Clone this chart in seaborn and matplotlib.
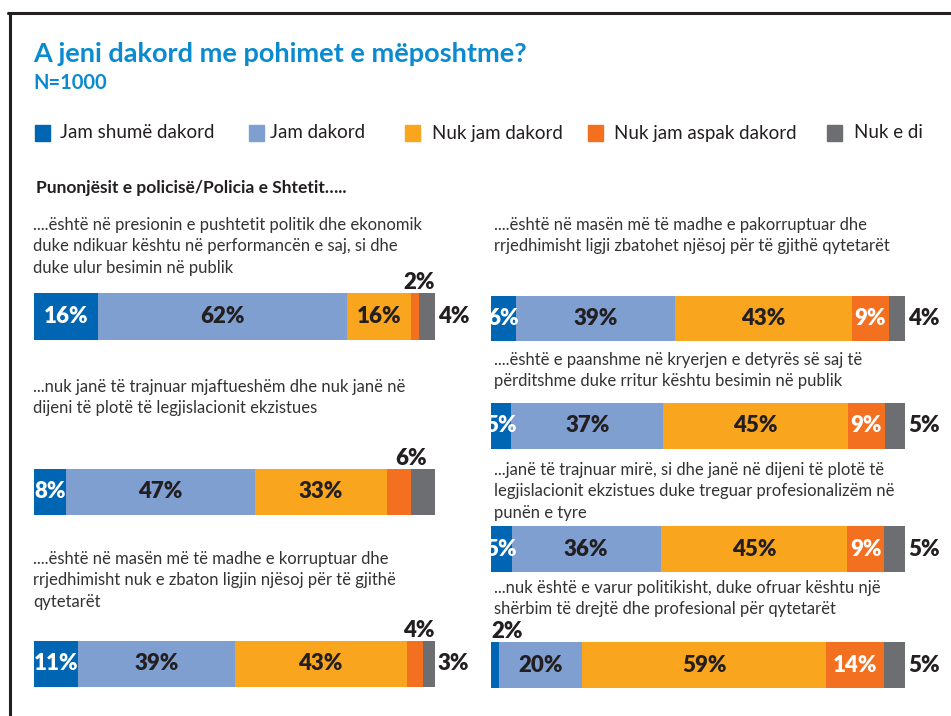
import numpy as np
import seaborn as sns
import matplotlib.pyplot as plt
from matplotlib.lines import Line2D
from matplotlib.patches import Rectangle

# legend categories and colours
categories = ["Jam shumë dakord", "Jam dakord", "Nuk jam dakord", "Nuk jam aspak dakord", "Nuk e di"]
colors = ["#0066b3", "#7f9fd1", "#f9a61e", "#f37021", "#6d6e71"]

title = "A jeni dakord me pohimet e mëposhtme?"
subtitle = "N=1000"
group_label = "Punonjësit e policisë/Policia e Shtetit\u2026.."

# left column statements and shares (%)
left_statements = [
    "....është në presionin e pushtetit politik dhe ekonomik\nduke ndikuar kështu në performancën e saj, si dhe\nduke ulur besimin në publik",
    "...nuk janë të trajnuar mjaftueshëm dhe nuk janë në\ndijeni të plotë të legjislacionit ekzistues",
    "....është në masën më të madhe e korruptuar dhe\nrrjedhimisht nuk e zbaton ligjin njësoj për të gjithë\nqytetarët",
]
left_values = [
    [16, 62, 16, 2, 4],
    [8, 47, 33, 6, 6],
    [11, 39, 43, 4, 3],
]

# right column statements and shares (%)
right_statements = [
    "....është në masën më të madhe e pakorruptuar dhe\nrrjedhimisht ligji zbatohet njësoj për të gjithë qytetarët",
    "....është e paanshme në kryerjen e detyrës së saj të\npërditshme duke rritur kështu besimin në publik",
    "...janë të trajnuar mirë, si dhe janë në dijeni të plotë të\nlegjislacionit ekzistues duke treguar profesionalizëm në\npunën e tyre",
    "...nuk është e varur politikisht, duke ofruar kështu një\nshërbim të drejtë dhe profesional për qytetarët",
]
right_values = [
    [6, 39, 43, 9, 4],
    [5, 37, 45, 9, 5],
    [5, 36, 45, 9, 5],
    [2, 20, 59, 14, 5],
]

# ---- layout (pixels) ----
W, H = 951, 716
left_x = (34, 435)
right_x = (491, 905)
left_bar_y = [(293, 340), (469, 515), (641, 687)]
right_bar_y = [(296, 341), (403, 449), (526, 572), (642, 688)]
left_text_y = [225, 387, 559]
right_text_y = [225, 360, 470, 588]
line_gap = 21.3

# where each value label goes
left_modes = [
    ["in", "in", "in", "above", "right"],
    ["in", "in", "in", "none", "edge"],
    ["in", "in", "in", "above", "right"],
]
right_modes = [
    ["in", "in", "in", "in", "right"],
    ["in", "in", "in", "in", "right"],
    ["in", "in", "in", "in", "right"],
    ["above_left", "in", "in", "in", "right"],
]
in_colors = ["white", "#231f20", "#231f20", "white", "white"]
dark = "#231f20"

sns.set_style("white")
plt.rcParams['font.family'] = ['Lato', 'DejaVu Sans']

fig = plt.figure(figsize=(W / 100, H / 100), dpi=100)


def fx(x):
    return x / W


def fy(y):
    return 1 - y / H


def draw_bar(xr, yr, values, modes):
    ax = fig.add_axes([fx(xr[0]), fy(yr[1]), (xr[1] - xr[0]) / W, (yr[1] - yr[0]) / H])
    cum = np.cumsum(values)
    # stack by overlaying cumulative totals, widest first
    for i in reversed(range(len(values))):
        sns.barplot(x=[cum[i]], y=["s"], orient="h", color=colors[i], saturation=1,
                    width=1, linewidth=0, errorbar=None, ax=ax)
    ax.set_xlim(0, cum[-1])
    ax.set_ylim(0.5, -0.5)
    ax.axis("off")
    trans = ax.get_xaxis_transform()
    for i, (v, m) in enumerate(zip(values, modes)):
        lab = f"{v}%"
        start = cum[i] - v
        mid = start + v / 2
        kw = dict(fontsize=16, fontweight="heavy", clip_on=False)
        if m == "in":
            ax.text(mid, 0.5, lab, transform=trans, ha="center", va="center",
                    color=in_colors[i], **kw)
        elif m == "above":
            ax.annotate(lab, (mid, 1.0), xycoords=trans, xytext=(3, 0),
                        textcoords="offset points", ha="center", va="bottom", color=dark, **kw)
        elif m == "edge":
            ax.annotate(lab, (start, 1.0), xycoords=trans, xytext=(0, 0),
                        textcoords="offset points", ha="center", va="bottom", color=dark, **kw)
        elif m == "above_left":
            ax.annotate(lab, (start, 1.0), xycoords=trans, xytext=(0, 0),
                        textcoords="offset points", ha="left", va="bottom", color=dark, **kw)
        elif m == "right":
            ax.annotate(lab, (1.0, 0.5), xycoords="axes fraction", xytext=(2, 0),
                        textcoords="offset points", ha="left", va="center", color=dark, **kw)


def draw_statement(x, y0, text):
    for k, line in enumerate(text.split("\n")):
        fig.text(fx(x), fy(y0 + k * line_gap), line, fontsize=12, color="#333333",
                 ha="left", va="center")


# frame
fig.add_artist(Line2D([fx(8), 1.0], [fy(13), fy(13)], color="#231f20", lw=2.2))
fig.add_artist(Line2D([fx(9.5), fx(9.5)], [fy(13), 0], color="#231f20", lw=2.2))

# titles
fig.text(fx(33), fy(62), title, fontsize=19.5, fontweight="bold", color="#0a8ad0", va="baseline")
fig.text(fx(33), fy(89), subtitle, fontsize=14.5, fontweight="bold", color="#0a8ad0", va="baseline")

# legend
sq_x = [35, 249, 405, 588, 827]
txt_x = [60, 270, 432, 614, 854]
for c, lab, sx, tx in zip(colors, categories, sq_x, txt_x):
    fig.add_artist(Rectangle((fx(sx), fy(141)), 15 / W, 16 / H, color=c, transform=fig.transFigure))
    fig.text(fx(tx), fy(133), lab, fontsize=13.5, color="#231f20", va="center")

fig.text(fx(36), fy(188), group_label, fontsize=12.5, fontweight="bold", color="#231f20", va="center")

for st, ty, by, vals, modes in zip(left_statements, left_text_y, left_bar_y, left_values, left_modes):
    draw_statement(33, ty, st)
    draw_bar(left_x, by, vals, modes)

for st, ty, by, vals, modes in zip(right_statements, right_text_y, right_bar_y, right_values, right_modes):
    draw_statement(494, ty, st)
    draw_bar(right_x, by, vals, modes)

fig.savefig("out.png", dpi=100)
